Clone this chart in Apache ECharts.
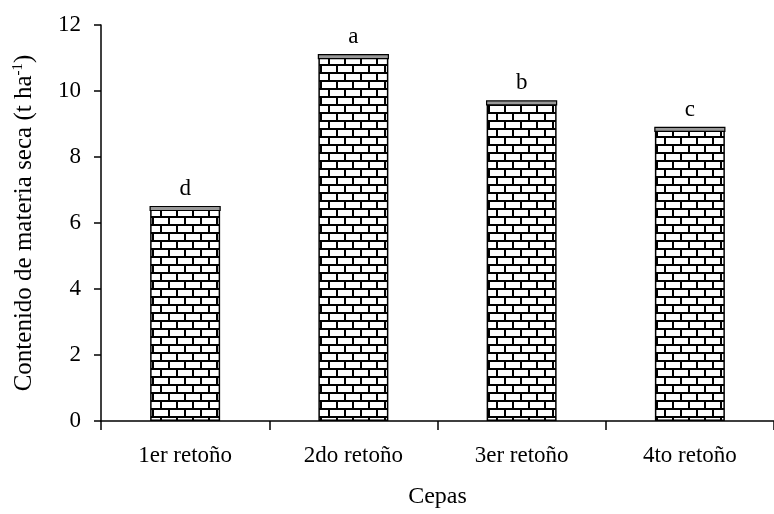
<!DOCTYPE html>
<html>
<head>
<meta charset="utf-8">
<script src="https://cdn.jsdelivr.net/npm/echarts@6/dist/echarts.min.js"></script>
<style>
html,body{margin:0;padding:0;background:#fff;}
#chart{width:774px;height:514px;}
</style>
</head>
<body>
<div id="chart"></div>
<script>
const categories = ['1er retoño', '2do retoño', '3er retoño', '4to retoño'];
const values = [6.5, 11.1, 9.7, 8.9];
const letters = ['d', 'a', 'b', 'c'];
const yTicks = [0, 2, 4, 6, 8, 10, 12];

function brickPattern() {
  const c = document.createElement('canvas');
  c.width = 16; c.height = 16;
  const g = c.getContext('2d');
  g.fillStyle = '#ffffff';
  g.fillRect(0, 0, 16, 16);
  g.fillStyle = '#000000';
  g.fillRect(0, 0, 16, 2);
  g.fillRect(0, 8, 16, 2);
  g.fillRect(0, 0, 2, 8);
  g.fillRect(8, 8, 2, 8);
  return c;
}

const FONT = 'Liberation Serif';
const chart = echarts.init(document.getElementById('chart'), null, {renderer: 'canvas'});
chart.setOption({
  backgroundColor: '#ffffff',
  animation: false,
  grid: {left: 101, top: 25, right: -7, bottom: 91},
  xAxis: {
    type: 'category',
    data: categories,
    name: 'Cepas',
    nameLocation: 'middle',
    nameGap: 64,
    nameTextStyle: {fontFamily: FONT, fontSize: 24, color: '#000'},
    axisLine: {lineStyle: {color: '#000', width: 1.5}},
    axisTick: {show: true, length: 9, lineStyle: {color: '#000', width: 1.5}},
    axisLabel: {fontFamily: FONT, fontSize: 23, color: '#000', margin: 23}
  },
  yAxis: {
    type: 'value',
    min: yTicks[0],
    max: yTicks[yTicks.length - 1],
    interval: 2,
    name: 'Contenido de materia seca (t ha{sup|-1})',
    nameLocation: 'middle',
    nameGap: 63,
    nameTextStyle: {
      fontFamily: FONT, fontSize: 25, color: '#000',
      rich: {sup: {fontFamily: FONT, fontSize: 15, color: '#000', verticalAlign: 'top', padding: [0, 0, 12, 0]}}
    },
    splitLine: {show: false},
    axisLine: {show: true, lineStyle: {color: '#000', width: 1.5}},
    axisTick: {show: true, length: 7, lineStyle: {color: '#000', width: 1.5}},
    axisLabel: {fontFamily: FONT, fontSize: 23, color: '#000', margin: 20}
  },
  series: [
    {
      type: 'bar',
      data: values,
      barWidth: 70,
      itemStyle: {
        color: {image: brickPattern(), repeat: 'repeat'},
        borderColor: '#000',
        borderWidth: 1.5
      },
      label: {
        show: true,
        position: 'top',
        distance: 6,
        fontFamily: FONT,
        fontSize: 23,
        color: '#000',
        formatter: p => letters[p.dataIndex]
      }
    },
    {
      type: 'custom',
      data: values.map((v, i) => [i, v]),
      z: 3,
      renderItem: function (params, api) {
        const p = api.coord([api.value(0), api.value(1)]);
        return {
          type: 'rect',
          shape: {x: p[0] - 35, y: p[1], width: 70, height: 4},
          style: {fill: '#999999', stroke: '#000', lineWidth: 1.2}
        };
      }
    }
  ]
});
</script>
</body>
</html>
